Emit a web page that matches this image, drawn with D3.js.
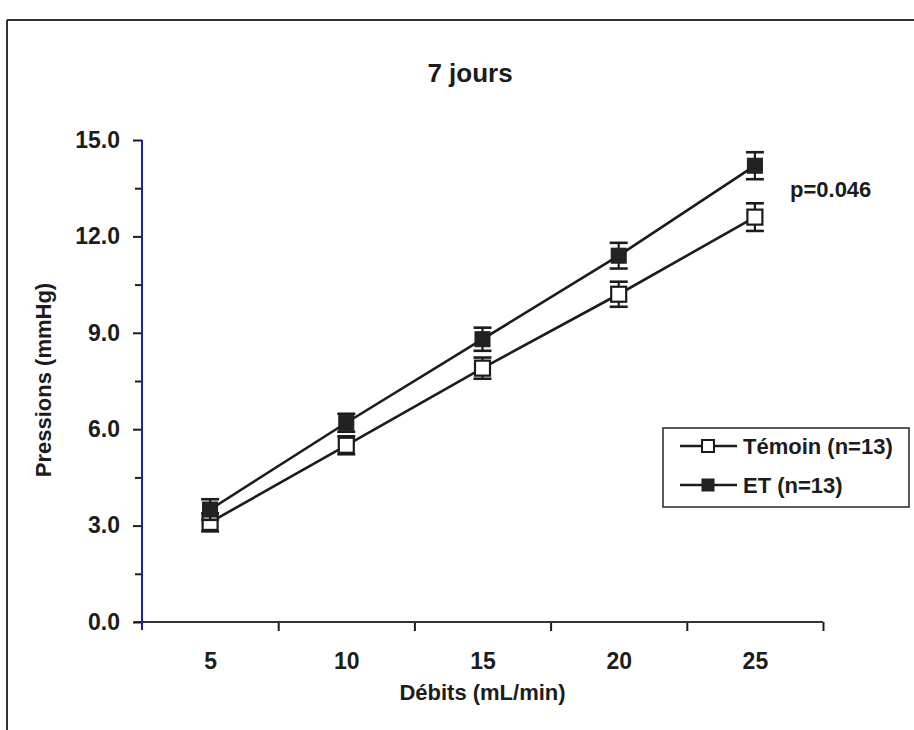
<!DOCTYPE html>
<html>
<head>
<meta charset="utf-8">
<title>7 jours</title>
<script src="https://d3js.org/d3.v7.min.js"></script>
<style>
body { margin: 0; background: #fff; }
text { font-family: "Liberation Sans", Arial, sans-serif; font-weight: bold; fill: #1c1c1c; }
</style>
</head>
<body>
<script>
// data
var debits = [5, 10, 15, 20, 25];
var temoin = [3.1, 5.5, 7.9, 10.2, 12.6];
var temoinErr = [0.28, 0.28, 0.33, 0.39, 0.43];
var et = [3.5, 6.2, 8.8, 11.4, 14.2];
var etErr = [0.32, 0.28, 0.36, 0.40, 0.42];
var yTicks = [0, 3, 6, 9, 12, 15];
var yMinor = [1.5, 4.5, 7.5, 10.5, 13.5];
var xBounds = [7.5, 12.5, 17.5, 22.5, 27.5];
var seriesNames = ["Témoin (n=13)", "ET (n=13)"];

var width = 914, height = 730;
var ink = "#1c1c1c";

var svg = d3.select("body").append("svg")
    .attr("width", width)
    .attr("height", height);

// page frame (scan border)
svg.append("line").attr("x1", 7).attr("y1", 20).attr("x2", 914).attr("y2", 20)
    .attr("stroke", "#333").attr("stroke-width", 2);
svg.append("line").attr("x1", 7).attr("y1", 20).attr("x2", 7).attr("y2", 730)
    .attr("stroke", "#333").attr("stroke-width", 2);

var x = d3.scaleLinear().domain([2.5, 27.5]).range([142, 823]);
var y = d3.scaleLinear().domain([0, 15]).range([622, 140]);

// x axis: ticks between categories, labels under them
var xAxisTicks = svg.append("g")
    .attr("transform", "translate(0," + y(0) + ")")
    .call(d3.axisBottom(x).tickValues(xBounds).tickFormat("").tickSize(9));
xAxisTicks.select(".domain").remove();
xAxisTicks.selectAll("line").attr("stroke", ink).attr("stroke-width", 2);

var xAxisLabels = svg.append("g")
    .attr("transform", "translate(0," + y(0) + ")")
    .call(d3.axisBottom(x).tickValues(debits).tickSize(0).tickPadding(31));
xAxisLabels.select(".domain").remove();
xAxisLabels.selectAll("text").attr("font-size", 23).attr("font-family", null).attr("fill", ink);

svg.append("line")
    .attr("x1", x(2.5) - 8).attr("x2", x(27.5))
    .attr("y1", y(0)).attr("y2", y(0))
    .attr("stroke", "#333").attr("stroke-width", 2);

// y axis
var yAxis = svg.append("g")
    .attr("transform", "translate(" + x(2.5) + ",0)")
    .call(d3.axisLeft(y).tickValues(yTicks).tickFormat(d3.format(".1f")).tickSize(9).tickPadding(13));
yAxis.select(".domain").remove();
yAxis.selectAll("line").attr("stroke", ink).attr("stroke-width", 2);
yAxis.selectAll("text").attr("font-size", 23).attr("font-family", null).attr("fill", ink);

var yAxisMinor = svg.append("g")
    .attr("transform", "translate(" + x(2.5) + ",0)")
    .call(d3.axisLeft(y).tickValues(yMinor).tickFormat("").tickSize(7));
yAxisMinor.select(".domain").remove();
yAxisMinor.selectAll("line").attr("stroke", ink).attr("stroke-width", 2);

svg.append("line")
    .attr("x1", x(2.5)).attr("x2", x(2.5))
    .attr("y1", y(15)).attr("y2", y(0) + 8)
    .attr("stroke", "#1e1eb4").attr("stroke-width", 2);

// series
function drawSeries(vals, errs, filled) {
    var line = d3.line()
        .x(function(d, i) { return x(debits[i]); })
        .y(function(d) { return y(d); });
    svg.append("path")
        .attr("d", line(vals))
        .attr("fill", "none")
        .attr("stroke", ink)
        .attr("stroke-width", 2.6);

    var g = svg.append("g");
    var bars = g.selectAll(".err").data(vals).enter().append("g");
    bars.append("line")
        .attr("x1", function(d, i) { return x(debits[i]); })
        .attr("x2", function(d, i) { return x(debits[i]); })
        .attr("y1", function(d, i) { return y(d - errs[i]); })
        .attr("y2", function(d, i) { return y(d + errs[i]); })
        .attr("stroke", ink).attr("stroke-width", 2.2);
    [-1, 1].forEach(function(s) {
        bars.append("line")
            .attr("x1", function(d, i) { return x(debits[i]) - 9; })
            .attr("x2", function(d, i) { return x(debits[i]) + 9; })
            .attr("y1", function(d, i) { return y(d + s * errs[i]); })
            .attr("y2", function(d, i) { return y(d + s * errs[i]); })
            .attr("stroke", ink).attr("stroke-width", 2.6);
    });

    g.selectAll("rect").data(vals).enter().append("rect")
        .attr("x", function(d, i) { return x(debits[i]) - 7.5; })
        .attr("y", function(d) { return y(d) - 7.5; })
        .attr("width", 15).attr("height", 15)
        .attr("fill", filled ? "#222" : "#fff")
        .attr("stroke", ink)
        .attr("stroke-width", filled ? 1 : 2.2);
}
drawSeries(temoin, temoinErr, false);
drawSeries(et, etErr, true);

// titles
svg.append("text").attr("x", 470).attr("y", 82)
    .attr("text-anchor", "middle").attr("font-size", 26).text("7 jours");

svg.append("text").attr("x", x(15)).attr("y", 700)
    .attr("text-anchor", "middle").attr("font-size", 22).text("Débits (mL/min)");

svg.append("text")
    .attr("transform", "translate(51,380) rotate(-90)")
    .attr("text-anchor", "middle").attr("font-size", 22).text("Pressions (mmHg)");

svg.append("text").attr("x", 790).attr("y", 197)
    .attr("font-size", 22).text("p=0.046");

// legend
var legend = svg.append("g").attr("transform", "translate(663,428)");
legend.append("rect")
    .attr("width", 246).attr("height", 79)
    .attr("fill", "#fff").attr("stroke", "#333").attr("stroke-width", 1.6);
var rows = legend.selectAll(".row").data(seriesNames).enter().append("g")
    .attr("transform", function(d, i) { return "translate(0," + (18 + i * 39) + ")"; });
rows.append("line").attr("x1", 17).attr("x2", 74)
    .attr("stroke", ink).attr("stroke-width", 2.4);
rows.append("rect")
    .attr("x", 39).attr("y", -6).attr("width", 12).attr("height", 12)
    .attr("fill", function(d, i) { return i == 0 ? "#fff" : "#222"; })
    .attr("stroke", ink).attr("stroke-width", function(d, i) { return i == 0 ? 2 : 1; });
rows.append("text").attr("x", 80).attr("dy", "0.36em")
    .attr("font-size", 22).text(function(d) { return d; });
</script>
</body>
</html>
